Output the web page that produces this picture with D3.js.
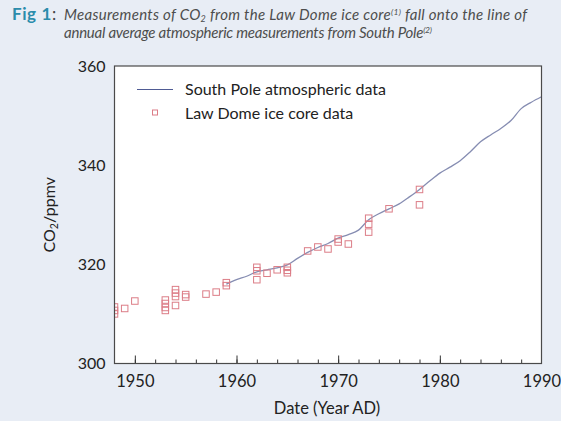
<!DOCTYPE html>
<html>
<head>
<meta charset="utf-8">
<script src="https://cdn.jsdelivr.net/npm/d3@7"></script>
<style>
  body { margin: 0; background: #e8edf5; }
  svg { display: block; font-family: Lato, "Open Sans", sans-serif; }
</style>
</head>
<body>
<div id="chart"></div>
<script>
// SOUTH POLE ANNUAL AVERAGES
const poleYears = [1959, 1960, 1961, 1962, 1963, 1964, 1965, 1966, 1967, 1968, 1969,
  1970, 1971, 1972, 1973, 1974, 1975, 1976, 1977, 1978, 1979, 1980, 1981, 1982,
  1983, 1984, 1985, 1986, 1987, 1988, 1989, 1990];
const poleCO2 = [316.0, 316.9, 317.6, 318.5, 318.9, 319.3, 319.9, 321.2, 322.4, 323.4, 324.2,
  325.3, 326.0, 326.9, 329.0, 330.2, 331.2, 332.2, 333.6, 335.1, 336.8, 338.4, 339.6, 340.9,
  342.7, 344.7, 346.1, 347.4, 349.0, 351.4, 352.7, 353.8];

// LAW DOME ICE CORE SAMPLES
const iceYears = [1948, 1948, 1948, 1949, 1950, 1953, 1953, 1953, 1953, 1954, 1954, 1954, 1954,
  1955, 1955, 1957, 1958, 1959, 1959, 1962, 1962, 1962, 1963, 1964, 1965, 1965, 1965,
  1967, 1968, 1969, 1970, 1970, 1971, 1973, 1973, 1973, 1975, 1978, 1978];
const iceCO2 = [311.4, 310.7, 310.0, 311.1, 312.6, 312.8, 312.1, 311.3, 310.7, 314.9, 314.2, 313.5, 311.7,
  313.9, 313.4, 314.0, 314.4, 316.3, 315.7, 319.4, 318.7, 316.9, 318.2, 318.9, 319.4, 318.8, 318.3,
  322.7, 323.5, 323.1, 325.1, 324.5, 324.1, 329.3, 328.1, 326.5, 331.2, 335.1, 332.0];

const yTicks = [300, 320, 340, 360];
const xTicks = [1950, 1960, 1970, 1980, 1990];

const w = 561;
const h = 421;
const pLeft = 114.5, pRight = 541.5, pTop = 66, pBottom = 363.5;

const svg = d3.select("#chart").append("svg").attr("width", w).attr("height", h);

// TITLE
const fig = svg.append("text").attr("x", 12).attr("y", 20)
  .style("font-size", "17px").style("letter-spacing", "0.6px");
fig.append("tspan").text("Fig 1").style("font-weight", "bold").style("fill", "#2b8cab");
fig.append("tspan").text(":").style("fill", "#444");

const t1 = svg.append("text").attr("x", 64).attr("y", 20)
  .attr("textLength", 463).attr("lengthAdjust", "spacing")
  .style("font-size", "15px").style("font-style", "italic").style("fill", "#4d4d4d");
t1.append("tspan").text("Measurements of CO");
t1.append("tspan").text("2").attr("baseline-shift", "-25%").style("font-size", "9px");
t1.append("tspan").text(" from the Law Dome ice core");
t1.append("tspan").text("(1)").attr("baseline-shift", "super").style("font-size", "8.5px");
t1.append("tspan").text(" fall onto the line of");

const t2 = svg.append("text").attr("x", 64).attr("y", 38)
  .attr("textLength", 368).attr("lengthAdjust", "spacing")
  .style("font-size", "15px").style("font-style", "italic").style("fill", "#4d4d4d");
t2.append("tspan").text("annual average atmospheric measurements from South Pole");
t2.append("tspan").text("(2)").attr("baseline-shift", "super").style("font-size", "8.5px");

// SCALES
const x = d3.scaleLinear().domain([1948, 1990]).range([pLeft, pRight]);
const y = d3.scaleLinear().domain([300, 360]).range([pBottom, pTop]);

// PLOT AREA
svg.append("rect")
  .attr("x", pLeft).attr("y", pTop)
  .attr("width", pRight - pLeft).attr("height", pBottom - pTop)
  .attr("fill", "#fff");

svg.append("clipPath").attr("id", "plot-clip").append("rect")
  .attr("x", pLeft).attr("y", pTop).attr("width", pRight - pLeft).attr("height", pBottom - pTop);

// MINOR + MAJOR TICKS (INWARD)
const minorAxis = d3.axisTop(x).tickValues(d3.range(1950, 1990, 2)).tickSize(4).tickFormat("");
svg.append("g").attr("transform", "translate(0," + pBottom + ")").call(minorAxis)
  .call((g) => g.select(".domain").remove())
  .selectAll("line").attr("stroke", "#333");

const majorAxis = d3.axisTop(x).tickValues(xTicks.slice(0, 4)).tickSize(8).tickFormat("");
svg.append("g").attr("transform", "translate(0," + pBottom + ")").call(majorAxis)
  .call((g) => g.select(".domain").remove())
  .selectAll("line").attr("stroke", "#333");

// X TICK LABELS
const xLabels = d3.axisBottom(x).tickValues(xTicks).tickSize(0).tickPadding(12).tickFormat(d3.format("d"));
svg.append("g").attr("transform", "translate(0," + pBottom + ")").call(xLabels)
  .call((g) => g.select(".domain").remove())
  .selectAll("text")
  .style("font-family", "Lato, sans-serif").style("font-size", "16.5px").style("fill", "#222");

// Y TICK LABELS
const yLabels = d3.axisLeft(y).tickValues(yTicks).tickSize(0).tickPadding(9);
svg.append("g").attr("transform", "translate(" + pLeft + ",0)").call(yLabels)
  .call((g) => g.select(".domain").remove())
  .selectAll("text")
  .style("font-family", "Lato, sans-serif").style("font-size", "16px").style("fill", "#222");

// SOUTH POLE LINE
const line = d3.line().x((d, i) => x(poleYears[i])).y((d) => y(d)).curve(d3.curveMonotoneX);
svg.append("path")
  .datum(poleCO2)
  .attr("d", line)
  .attr("fill", "none")
  .attr("stroke", "#868db2")
  .attr("stroke-width", 1.3);

// ICE CORE SQUARES
const sq = 6.5;
svg.append("g").attr("clip-path", "url(#plot-clip)")
  .selectAll("rect")
  .data(iceCO2)
  .enter()
  .append("rect")
  .attr("x", (d, i) => x(iceYears[i]) - sq / 2)
  .attr("y", (d) => y(d) - sq / 2)
  .attr("width", sq)
  .attr("height", sq)
  .attr("fill", "none")
  .attr("stroke", "#dc7d87")
  .attr("stroke-width", 1);

// FRAME
svg.append("rect")
  .attr("x", pLeft).attr("y", pTop)
  .attr("width", pRight - pLeft).attr("height", pBottom - pTop)
  .attr("fill", "none").attr("stroke", "#4a4a4a").attr("stroke-width", 1.2);

// AXIS TITLES
svg.append("text")
  .attr("x", (pLeft + pRight) / 2 - 1).attr("y", 414)
  .attr("text-anchor", "middle")
  .style("font-size", "16.5px").style("fill", "#222")
  .text("Date (Year AD)");

const yTitle = svg.append("text")
  .attr("transform", "translate(55," + (pTop + pBottom) / 2 + ") rotate(-90)")
  .attr("text-anchor", "middle")
  .style("font-size", "16px").style("fill", "#222");
yTitle.append("tspan").text("CO");
yTitle.append("tspan").text("2").attr("baseline-shift", "-25%").style("font-size", "10.5px");
yTitle.append("tspan").text("/ppmv");

// LEGEND
const legend = svg.append("g");
legend.append("line")
  .attr("x1", 137).attr("x2", 173).attr("y1", 89.5).attr("y2", 89.5)
  .attr("stroke", "#4f5b94").attr("stroke-width", 1.2);
legend.append("text").attr("x", 185).attr("y", 95)
  .style("font-size", "16px").style("fill", "#222")
  .text("South Pole atmospheric data");
legend.append("rect")
  .attr("x", 152.5).attr("y", 110).attr("width", 5).attr("height", 5)
  .attr("fill", "none").attr("stroke", "#dc7d87").attr("stroke-width", 1);
legend.append("text").attr("x", 185).attr("y", 118.5)
  .style("font-size", "16px").style("fill", "#222")
  .text("Law Dome ice core data");
</script>
</body>
</html>
